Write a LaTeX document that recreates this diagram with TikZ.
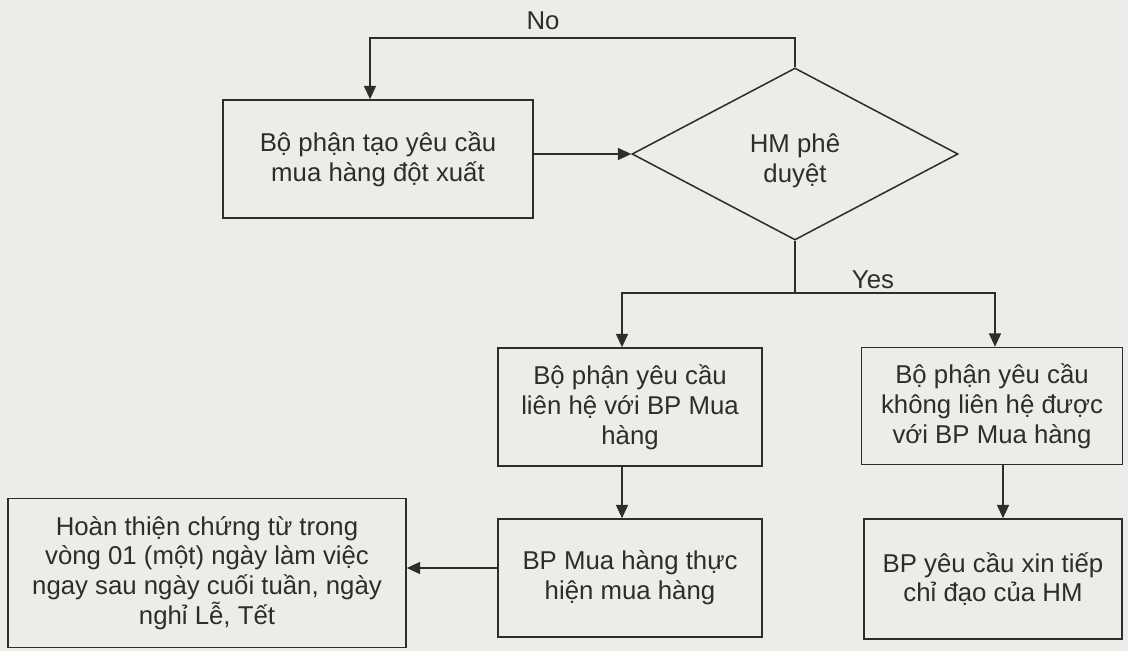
\documentclass[tikz,border=0pt]{standalone}
\usepackage{fontspec}
\setmainfont{Liberation Sans}
\usetikzlibrary{arrows.meta, shapes.geometric}
\definecolor{paperGray}{RGB}{236,236,233}
\definecolor{inkGray}{RGB}{45,45,45}
\tikzset{
    flowBox/.style={
        rectangle,
        draw=inkGray,
        line width=1.3pt,
        align=center,
        inner sep=0pt,
        text=inkGray,
        font=\fontsize{22}{25.5}\selectfont
    },
    decNode/.style={
        diamond,
        aspect=1.9,
        draw=inkGray,
        line width=1.3pt,
        inner sep=0pt
    },
    flowLine/.style={draw=inkGray, line width=1.3pt},
    flowArrow/.style={flowLine, ->},
    flowLabel/.style={text=inkGray, align=center, font=\fontsize{22}{25.5}\selectfont}
}

\begin{document}
\begin{tikzpicture}[x=0.03cm, y=-0.03cm, >={Triangle[length=0.4cm, width=0.36cm]}]
            % Paper
            \fill[paperGray] (0,0) rectangle (1128,651);
            \useasboundingbox (0,0) rectangle (1128,651);

            % Nodes
            \node[flowBox, minimum width=9.3cm, minimum height=3.54cm] (req) at (378,159)
                {Bộ phận tạo yêu cầu\\mua hàng đột xuất};
            \node[decNode, minimum width=9.78cm, minimum height=5.16cm,
                label={[flowLabel, yshift=-0.2cm]center:{HM phê\\duyệt}}] (hm) at (795,154) {};
            \node[flowBox, minimum width=7.92cm, minimum height=3.54cm] (contact) at (630,407)
                {Bộ phận yêu cầu\\liên hệ với BP Mua\\hàng};
            \node[flowBox, minimum width=7.83cm, minimum height=3.51cm] (nocontact) at (992,406)
                {Bộ phận yêu cầu\\không liên hệ được\\với BP Mua hàng};
            \node[flowBox, minimum width=7.92cm, minimum height=3.54cm] (buy) at (630,578)
                {BP Mua hàng thực\\hiện mua hàng};
            \node[flowBox, minimum width=7.74cm, minimum height=3.6cm] (ask) at (993,579)
                {BP yêu cầu xin tiếp\\chỉ đạo của HM};
            \node[flowBox, minimum width=11.94cm, minimum height=4.47cm] (doc) at (207,573)
                {Hoàn thiện chứng từ trong\\vòng 01 (một) ngày làm việc\\ngay sau ngày cuối tuần, ngày\\nghỉ Lễ, Tết};

            % Labels
            \node[flowLabel] (noLbl) at (543,21) {No};
            \node[flowLabel] (yesLbl) at (873,280) {Yes};

            % Connectors
            \draw[flowArrow] (req.east |- hm.west) -- (hm.west);
            \coordinate (noCorner) at (370,38);
            \draw[flowArrow] (hm.north) |- (noCorner) -- (noCorner |- req.north);
            \coordinate (yesFork) at (795,293);
            \draw[flowLine] (hm.south) -- (yesFork);
            \draw[flowArrow] (yesFork) -| ([xshift=-0.24cm]contact.north);
            \draw[flowArrow] (yesFork) -| ([xshift=0.09cm]nocontact.north);
            \draw[flowArrow] ([xshift=-0.24cm]contact.south) -- ([xshift=-0.24cm]buy.north);
            \coordinate (askIn) at ([xshift=0.3cm]ask.north);
            \draw[flowArrow] (askIn |- nocontact.south) -- (askIn);
            \coordinate (buyOut) at ([yshift=0.3cm]buy.west);
            \draw[flowArrow] (buyOut) -- (buyOut -| doc.east);
        \end{tikzpicture}
\end{document}
